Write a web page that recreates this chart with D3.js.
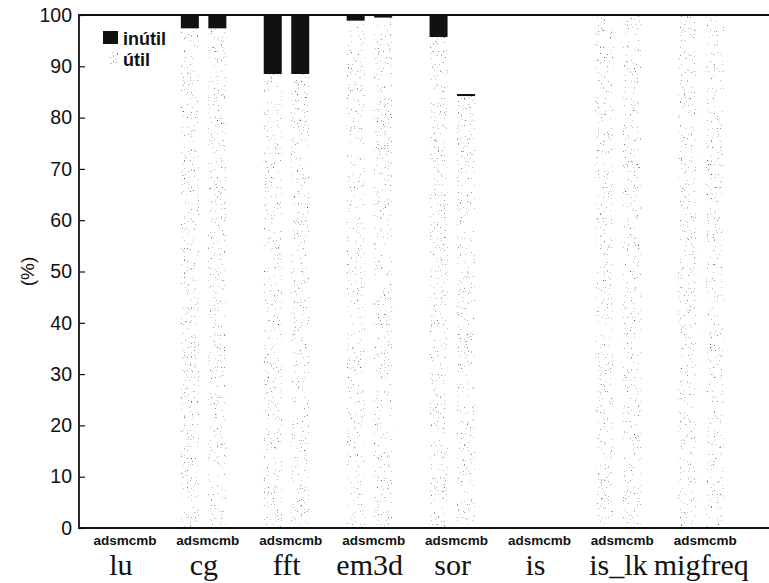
<!DOCTYPE html>
<html>
<head>
<meta charset="utf-8">
<script src="https://cdn.jsdelivr.net/npm/d3@7"></script>
<style>
  html, body { margin: 0; padding: 0; background: #fff; }
  svg { display: block; }
</style>
</head>
<body>
<svg id="chart" width="769" height="583"></svg>
<script>
// Benchmarks (x groups) and the two configurations drawn in each group
const groups = ["lu", "cg", "fft", "em3d", "sor", "is", "is_lk", "migfreq"];
const configs = ["adsm", "cmb"];
const groupSubLabel = "adsmcmb";

// Share of useful / useless work (%) per benchmark, one array per configuration
const utilAdsm   = [0, 97.4, 88.5, 98.9, 95.7, 0, 100, 100];
const inutilAdsm = [0,  2.6, 11.5,  1.1,  4.3, 0,   0,   0];
const utilCmb    = [0, 97.4, 88.5, 99.5, 84.2, 0, 100, 100];
const inutilCmb  = [0,  2.6, 11.5,  0.5,  0.4, 0,   0,   0];

const yTicks = [0, 10, 20, 30, 40, 50, 60, 70, 80, 90, 100];
const legendItems = ["inútil", "útil"];

const svg = d3.select("#chart");
const W = 769;
const plotLeft = 79, plotTop = 15, plotBottom = 528;

// Speckled fill for the "útil" segments
const defs = svg.append("defs");
const f = defs.append("filter").attr("id", "speck")
  .attr("x", 0).attr("y", 0).attr("width", 1).attr("height", 1)
  .attr("color-interpolation-filters", "sRGB");
f.append("feTurbulence").attr("type", "fractalNoise").attr("baseFrequency", 0.7)
  .attr("numOctaves", 2).attr("seed", 7).attr("result", "noise");
f.append("feColorMatrix").attr("in", "noise").attr("type", "matrix")
  .attr("values", "0 0 0 0 0  0 0 0 0 0  0 0 0 0 0  1 0 0 0 0").attr("result", "a");
const ct = f.append("feComponentTransfer").attr("in", "a").attr("result", "dots");
ct.append("feFuncA").attr("type", "discrete")
  .attr("tableValues", "0 0 0 0 0 0 0 0 0 0 0 0 0 0 0.25 0.4 0.55 0.7 0.85 1");
f.append("feComposite").attr("in", "dots").attr("in2", "SourceGraphic")
  .attr("operator", "in").attr("result", "clipped");
const fm = f.append("feMerge");
fm.append("feMergeNode").attr("in", "SourceGraphic");
fm.append("feMergeNode").attr("in", "clipped");

// Scales
const x0 = d3.scaleBand().domain(groups).range([79.5, 742.7]);
const bw = x0.bandwidth();
const x1 = d3.scaleBand().domain(configs)
  .range([bw / 2 - 23, bw / 2 + 22.5]).paddingInner(0.345);
const y = d3.scaleLinear().domain([0, 100]).range([plotBottom, plotTop]);

// Stacked rows: one per bar
const rows = [];
groups.forEach((g, i) => {
  rows.push({ g, c: "adsm", util: utilAdsm[i], inutil: inutilAdsm[i] });
  rows.push({ g, c: "cmb", util: utilCmb[i], inutil: inutilCmb[i] });
});

const bars = svg.append("g");
bars.selectAll("rect.util").data(rows.filter(d => d.util > 0)).join("rect")
  .attr("class", "util")
  .attr("x", d => x0(d.g) + x1(d.c))
  .attr("width", x1.bandwidth())
  .attr("y", d => y(d.util))
  .attr("height", d => y(0) - y(d.util))
  .attr("fill", "#fff")
  .attr("filter", "url(#speck)");
bars.selectAll("rect.inutil").data(rows.filter(d => d.inutil > 0)).join("rect")
  .attr("class", "inutil")
  .attr("x", d => x0(d.g) + x1(d.c))
  .attr("width", x1.bandwidth())
  .attr("y", d => y(d.util + d.inutil))
  .attr("height", d => y(d.util) - y(d.util + d.inutil))
  .attr("fill", "#111");

// Frame: left axis, top and bottom rules
const frame = svg.append("g").attr("stroke", "#111").attr("stroke-width", 1.8);
frame.append("line").attr("x1", plotLeft).attr("x2", plotLeft).attr("y1", y(100) - 0.9).attr("y2", y(0) + 0.9);
frame.append("line").attr("x1", plotLeft).attr("x2", W).attr("y1", y(100)).attr("y2", y(100));
frame.append("line").attr("x1", plotLeft).attr("x2", W).attr("y1", y(0)).attr("y2", y(0));

// Y axis: inward ticks, labels on the left
const yAxis = d3.axisLeft(y).tickValues(yTicks).tickSizeInner(-6).tickSizeOuter(0).tickPadding(7);
const ya = svg.append("g").attr("transform", `translate(${plotLeft},0)`).call(yAxis);
ya.select(".domain").remove();
ya.selectAll(".tick line").attr("stroke", "#111").attr("stroke-width", 1.2);
ya.selectAll(".tick text")
  .attr("font-family", "'Liberation Sans', Arial, sans-serif")
  .attr("font-size", 19.5).attr("fill", "#111");

svg.append("text")
  .attr("transform", `translate(27,${(plotTop + plotBottom) / 2}) rotate(-90)`)
  .attr("text-anchor", "middle").attr("dominant-baseline", "central")
  .attr("font-family", "'Liberation Sans', Arial, sans-serif")
  .attr("font-size", 19).attr("fill", "#111")
  .text("(%)");

// Group labels
const gl = svg.append("g");
gl.selectAll("text.sub").data(groups).join("text")
  .attr("class", "sub")
  .attr("x", d => x0(d) + bw / 2 + 4)
  .attr("y", 545)
  .attr("text-anchor", "middle")
  .attr("font-family", "'Liberation Sans', Arial, sans-serif")
  .attr("font-weight", "bold").attr("font-size", 13.5).attr("fill", "#111")
  .text(groupSubLabel);
gl.selectAll("text.name").data(groups).join("text")
  .attr("class", "name")
  .attr("x", d => x0(d) + bw / 2)
  .attr("y", 575)
  .attr("text-anchor", "middle")
  .attr("font-family", "'Liberation Serif', 'Times New Roman', serif")
  .attr("font-size", 30).attr("fill", "#111")
  .text(d => d);

// Legend
const lg = svg.append("g").attr("transform", "translate(103,31)");
const li = lg.selectAll("g").data(legendItems).join("g")
  .attr("transform", (d, i) => `translate(0,${i * 21})`);
li.append("rect").attr("width", 15).attr("height", 13)
  .attr("fill", (d, i) => i === 0 ? "#111" : "#fff")
  .attr("filter", (d, i) => i === 0 ? null : "url(#speck)");
li.append("text").attr("x", 20).attr("y", 13.5)
  .attr("font-family", "'Liberation Sans', Arial, sans-serif")
  .attr("font-weight", "bold").attr("font-size", 18).attr("fill", "#111")
  .text(d => d);
</script>
</body>
</html>
